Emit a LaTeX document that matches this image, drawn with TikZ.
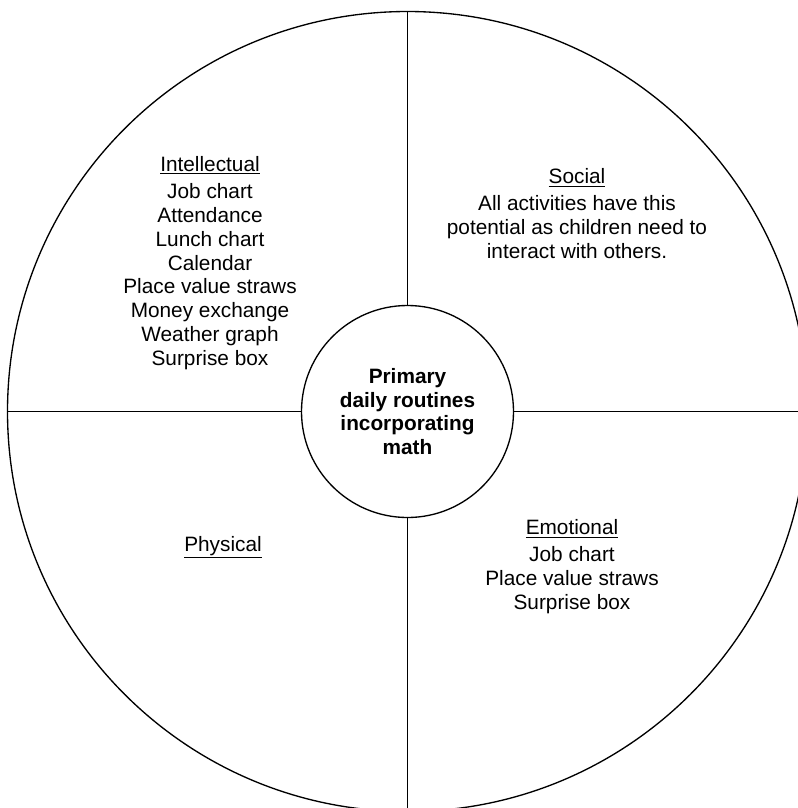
\documentclass[tikz,border=0pt]{standalone}
\usepackage{fontspec}
\setmainfont{Liberation Sans}
\tikzset{
    hub/.style={draw, circle, line width=1pt, minimum size=159pt, inner sep=0pt,
        align=center, font=\fontsize{15.6}{17.8}\selectfont\bfseries},
    quad/.style={align=center, anchor=base, inner sep=0pt,
        font=\fontsize{15.6}{17.8}\selectfont}
}
\begin{document}
\begin{tikzpicture}[x=0.75pt, y=-0.75pt]
    \useasboundingbox (0,0) rectangle (798,808);
    \clip (0,0) rectangle (798,808);

    % Centro
    \node[hub] (hub) at (407.5,411.5) {Primary\\daily routines\\incorporating\\math};
    \draw[line width=1pt] (hub.center) circle[radius=300pt];

    % Pontos na borda do circulo grande
    \coordinate (top) at (407.5,11.5);
    \coordinate (bottom) at (407.5,811.5);
    \coordinate (left) at (7.5,411.5);
    \coordinate (right) at (807.5,411.5);
    \draw[line width=1pt] (hub) -- (top);
    \draw[line width=1pt] (hub) -- (bottom);
    \draw[line width=1pt] (hub) -- (left);
    \draw[line width=1pt] (hub) -- (right);

    % Quadrantes (base = linha de base da ultima linha)
    \node[quad] (intellectual) at (210,365) {\underline{Intellectual}\\[2.8pt]
        Job chart\\Attendance\\Lunch chart\\Calendar\\Place value straws\\
        Money exchange\\Weather graph\\Surprise box};
    \node[quad] (social) at (577,258) {\underline{Social}\\[2.3pt]
        All activities have this\\potential as children need to\\interact with others.};
    \node[quad] (emotional) at (572,609) {\underline{Emotional}\\[2.3pt]
        Job chart\\Place value straws\\Surprise box};
    \node[quad] (physical) at (223,551) {\underline{Physical}};
\end{tikzpicture}
\end{document}
